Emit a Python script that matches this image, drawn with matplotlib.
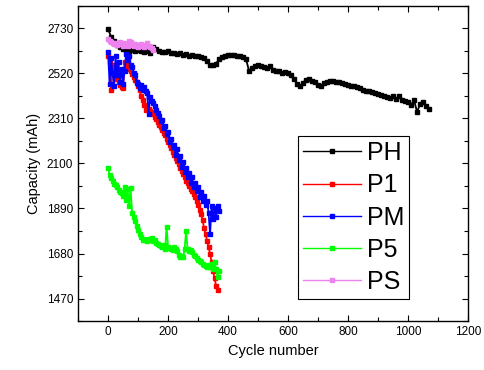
import numpy as np
import matplotlib
matplotlib.use("Agg")
import matplotlib.pyplot as plt
from matplotlib.ticker import MultipleLocator

plt.rcParams['font.family'] = ['Liberation Sans', 'DejaVu Sans']

# ---------------- data ----------------
ph_cycles = list(range(0, 1080, 10))
ph_cap = [2725, 2690, 2670, 2650, 2640, 2632, 2630, 2625, 2628, 2622,
          2630, 2625, 2618, 2622, 2612, 2640, 2632, 2625, 2620, 2618,
          2622, 2615, 2612, 2610, 2612, 2605, 2608, 2600, 2603, 2598,
          2600, 2595, 2590, 2575, 2560, 2558, 2565, 2585, 2595, 2600,
          2605, 2603, 2605, 2600, 2598, 2595, 2585, 2530, 2545, 2555,
          2560, 2552, 2548, 2542, 2555, 2535, 2532, 2530, 2520, 2525,
          2522, 2510, 2495, 2470, 2460, 2475, 2490, 2492, 2485, 2480,
          2465, 2462, 2475, 2478, 2482, 2485, 2480, 2478, 2475, 2470,
          2465, 2462, 2460, 2455, 2450, 2442, 2438, 2435, 2432, 2428,
          2425, 2420, 2415, 2410, 2405, 2412, 2400, 2415, 2395, 2392,
          2385, 2370, 2395, 2340, 2375, 2385, 2365, 2355]

p1_cycles = list(range(0, 370, 5))
p1_cap = [2600, 2570, 2440, 2560, 2535, 2510, 2495, 2480, 2465, 2455,
          2450, 2570, 2560, 2550, 2540, 2530, 2515, 2500, 2490, 2475,
          2460, 2440, 2415, 2395, 2370, 2350, 2360, 2352, 2345, 2338,
          2330, 2318, 2305, 2292, 2280, 2268, 2255, 2242, 2230, 2215,
          2200, 2185, 2170, 2155, 2140, 2125, 2110, 2095, 2080, 2065,
          2050, 2035, 2020, 2008, 1995, 1982, 1970, 1958, 1945, 1925,
          1905, 1885, 1865, 1835, 1800, 1770, 1740, 1710, 1680, 1640,
          1600, 1565, 1530, 1510]

pm_cycles = list(range(0, 375, 5))
pm_cap = [2620, 2470, 2590, 2520, 2460, 2600, 2510, 2570, 2480, 2540,
          2470, 2530, 2610, 2580, 2600, 2560, 2550, 2520, 2510, 2480,
          2470, 2450, 2465, 2440, 2455, 2435, 2430, 2330, 2410, 2390,
          2380, 2365, 2350, 2335, 2320, 2295, 2300, 2265, 2275, 2235,
          2245, 2200, 2215, 2175, 2185, 2140, 2165, 2115, 2135, 2085,
          2105, 2060, 2080, 2035, 2055, 2010, 2035, 1990, 2010, 1970,
          1990, 1945, 1965, 1925, 1950, 1905, 1925, 1870, 1770, 1900,
          1840, 1890, 1850, 1900, 1880]

p5_cycles = list(range(0, 375, 5))
p5_cap = [2080, 2045, 2030, 2020, 2005, 2000, 1990, 1975, 1965, 1960,
          1950, 1990, 1930, 1980, 1900, 1985, 1870, 1850, 1830, 1810,
          1790, 1770, 1755, 1745, 1750, 1745, 1740, 1748, 1745, 1752,
          1740, 1745, 1730, 1725, 1720, 1715, 1710, 1720, 1700, 1805,
          1712, 1705, 1700, 1695, 1710, 1700, 1690, 1675, 1665, 1670,
          1662, 1700, 1785, 1700, 1690, 1695, 1685, 1675, 1670, 1660,
          1650, 1645, 1640, 1630, 1625, 1620, 1615, 1625, 1618, 1630,
          1610, 1640, 1610, 1570, 1600]

ps_cycles = list(range(0, 155, 5))
ps_cap = [2680, 2670, 2665, 2660, 2655, 2662, 2650, 2658, 2665, 2655,
          2648, 2660, 2652, 2645, 2670, 2665, 2650, 2645, 2655, 2648,
          2642, 2650, 2658, 2645, 2640, 2652, 2660, 2648, 2640, 2635,
          2630]

series = [
    ("PH", ph_cycles, ph_cap, "#000000"),
    ("P1", p1_cycles, p1_cap, "#ff0000"),
    ("PM", pm_cycles, pm_cap, "#0000ff"),
    ("P5", p5_cycles, p5_cap, "#00ff00"),
    ("PS", ps_cycles, ps_cap, "#ee82ee"),
]

y_ticks = [1470, 1680, 1890, 2100, 2310, 2520, 2730]
x_ticks = [0, 200, 400, 600, 800, 1000, 1200]

# ---------------- figure ----------------
fig = plt.figure(figsize=(4.85, 3.70), dpi=100)
ax = fig.add_axes([0.161, 0.132, 0.804, 0.853])

for name, xs, ys, col in series:
    ax.plot(xs, ys, '-', color=col, lw=1.3, marker='s', ms=3.2,
            mec=col, mfc=col, label=name)

ax.set_xlim(-100, 1200)
ax.set_ylim(1365, 2835)
ax.set_xticks(x_ticks)
ax.set_yticks(y_ticks)
ax.xaxis.set_minor_locator(MultipleLocator(100))
ax.yaxis.set_minor_locator(MultipleLocator(105))
ax.tick_params(which='both', direction='in', top=True, right=True,
               labelsize=8.5, width=0.8)
ax.tick_params(which='major', length=4)
ax.tick_params(which='minor', length=3)
for s in ax.spines.values():
    s.set_linewidth(1.0)

ax.set_xlabel("Cycle number", fontsize=10.5)
ax.set_ylabel("Capacity (mAh)", fontsize=10.5)

leg = ax.legend(loc='upper left', bbox_to_anchor=(0.564, 0.586),
                borderaxespad=0, fontsize=18, numpoints=1,
                handlelength=2.3, handletextpad=0.25, labelspacing=0.33,
                borderpad=0.2, fancybox=False, framealpha=1,
                edgecolor='black')
leg.get_frame().set_linewidth(0.8)
for h in leg.get_lines():
    h.set_linewidth(1.0)
    h.set_markersize(3)

fig.savefig("out.png", dpi=100)
